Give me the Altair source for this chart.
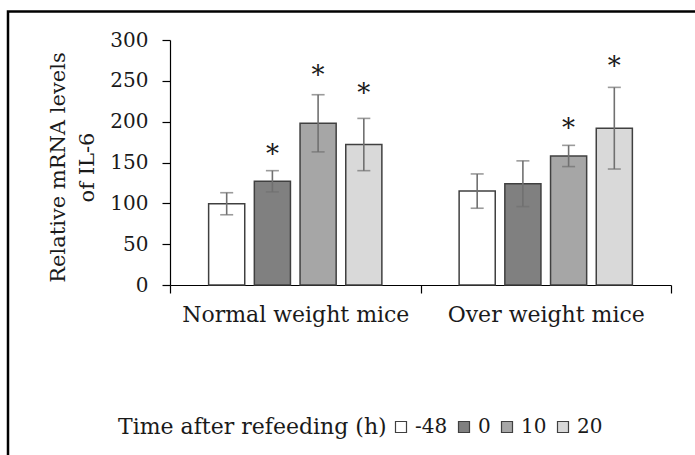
import altair as alt
import pandas as pd

groups = ["Normal weight mice", "Over weight mice"]
times = ["-48", "0", "10", "20"]
means_normal = [99.5, 127, 198, 172]
err_normal = [13.5, 13, 35, 32]
means_over = [115, 124, 158, 192]
err_over = [21, 28, 13, 50]
star_normal = [None, 168, 264, 242]
star_over = [None, None, 200, 276]
colors = ["#ffffff", "#808080", "#a6a6a6", "#d9d9d9"]

rows = []
for g, ms, es, ss in [(groups[0], means_normal, err_normal, star_normal),
                      (groups[1], means_over, err_over, star_over)]:
    for t, m, e, s in zip(times, ms, es, ss):
        rows.append({"group": g, "time": t, "mean": m,
                     "lo": m - e, "hi": m + e, "star": s})
df = pd.DataFrame(rows)
stars = df.dropna(subset=["star"])

FONT = "DejaVu Serif"

x = alt.X("group:N", sort=groups, title=None,
          scale=alt.Scale(paddingInner=0, paddingOuter=0),
          axis=alt.Axis(labelAngle=0, labelFontSize=22, labelFont=FONT,
                        labelColor="#1a1a1a", domainColor="#000000",
                        tickColor="#000000", tickSize=8, tickBand="extent",
                        labelPadding=11, domainWidth=1.2, tickWidth=1.2,
                        labelLimit=0))
xo = alt.XOffset("time:N", sort=times,
                 scale=alt.Scale(paddingInner=0.21, paddingOuter=0.845))

bars = alt.Chart(df).mark_bar(stroke="#404040", strokeWidth=1.5).encode(
    x=x, xOffset=xo,
    y=alt.Y("mean:Q", scale=alt.Scale(domain=[0, 300], nice=False),
            axis=alt.Axis(values=[0, 50, 100, 150, 200, 250, 300], grid=False,
                          labelFontSize=20, labelFont=FONT, labelColor="#1a1a1a",
                          domainColor="#000000", tickColor="#000000",
                          tickSize=8, labelPadding=14, domainWidth=1.2,
                          tickWidth=1.2,
                          title=["Relative mRNA levels", "of IL-6"],
                          titleFont=FONT, titleFontSize=21,
                          titleFontWeight="normal", titleColor="#1a1a1a",
                          titleLineHeight=29, titleX=-112, titleY=127,
                          titleBaseline="middle", titleAngle=270)),
    color=alt.Color("time:N", sort=times,
                    scale=alt.Scale(domain=times, range=colors),
                    legend=alt.Legend(title="Time after refeeding (h)",
                                      orient="none", direction="horizontal",
                                      titleOrient="left", legendX=-52,
                                      legendY=377, titleFont=FONT,
                                      titleFontSize=22, titleFontWeight="normal",
                                      titleColor="#1a1a1a", labelFont=FONT,
                                      labelFontSize=20, labelColor="#1a1a1a",
                                      symbolType="square", symbolSize=121,
                                      symbolStrokeColor="#404040",
                                      symbolStrokeWidth=1.2, labelOffset=4,
                                      columnPadding=6, titlePadding=4,
                                      titleLimit=0, labelLimit=0))
)

rules = alt.Chart(df).mark_rule(color="#707070", strokeWidth=1.6).encode(
    x=x, xOffset=xo, y="lo:Q", y2="hi:Q")
cap_lo = alt.Chart(df).mark_tick(color="#707070", thickness=1.6, size=13,
                                 orient="horizontal").encode(x=x, xOffset=xo, y="lo:Q")
cap_hi = alt.Chart(df).mark_tick(color="#707070", thickness=1.6, size=13,
                                 orient="horizontal").encode(x=x, xOffset=xo, y="hi:Q")
star_text = alt.Chart(stars).mark_text(text="*", font=FONT, fontSize=26,
                                       color="#1a1a1a", baseline="alphabetic",
                                       dy=15).encode(x=x, xOffset=xo, y="star:Q")

frame = alt.Chart(pd.DataFrame({"a": [0]})).mark_rect(
    fill=None, stroke="#000000", strokeWidth=2.5).encode(
    x=alt.value(-162), x2=alt.value(560), y=alt.value(-28.5), y2=alt.value(480))

chart = alt.layer(frame, bars, rules, cap_lo, cap_hi, star_text).properties(
    width=501, height=245,
    autosize=alt.AutoSizeParams(type="none"),
    padding={"left": 170, "top": 40, "right": 24, "bottom": 170},
    background="#ffffff"
).configure_view(stroke=None)

chart.save("out.html", embed_options={"renderer": "svg", "actions": False})
